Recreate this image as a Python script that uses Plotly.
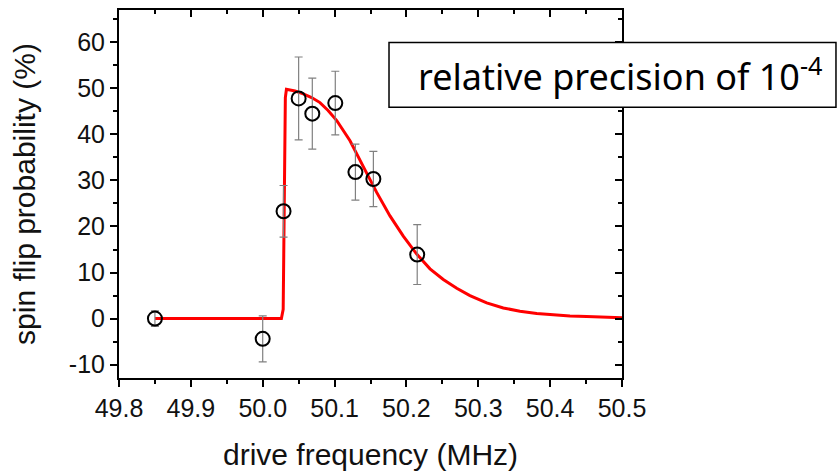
import plotly.graph_objects as go

# measured data
FREQ = [49.85, 50.00, 50.029, 50.050, 50.069, 50.101, 50.129, 50.154, 50.215]
PROB = [0.0, -4.4, 23.3, 47.8, 44.5, 46.8, 31.8, 30.3, 13.9]
ERR = [1.7, 5.0, 5.6, 9.0, 7.7, 6.9, 6.1, 6.0, 6.5]

# fit curve
FIT_X = [49.85, 50.026, 50.0285, 50.030, 50.0315, 50.033, 50.045, 50.0565, 50.068,
         50.0797, 50.091, 50.103, 50.1215, 50.14, 50.1586, 50.1771, 50.1956, 50.2143,
         50.2328, 50.2513, 50.27, 50.2884, 50.3117, 50.3348, 50.358, 50.3813, 50.4044,
         50.4276, 50.4508, 50.474, 50.5]
FIT_Y = [0.0, 0.0, 2.0, 30.0, 48.0, 49.8, 49.4, 48.8, 48.0,
         46.9, 45.2, 43.0, 38.6, 33.0, 27.4, 22.3, 17.9, 14.0,
         10.8, 8.5, 6.6, 5.0, 3.4, 2.3, 1.6, 1.1, 0.8,
         0.58, 0.43, 0.3, 0.2]

X_TICKS = [49.8, 49.9, 50.0, 50.1, 50.2, 50.3, 50.4, 50.5]
Y_TICKS = [-10, 0, 10, 20, 30, 40, 50, 60]

X_RANGE = [49.8, 50.5]
Y_RANGE = [-12.9, 67.0]

FONT = "Liberation Sans, Arial, sans-serif"

fig = go.Figure()

fig.add_trace(go.Scatter(
    x=FIT_X, y=FIT_Y, mode="lines",
    line=dict(color="#ff0000", width=3),
    hoverinfo="skip", showlegend=False,
))

fig.add_trace(go.Scatter(
    x=FREQ, y=PROB, mode="markers",
    marker=dict(symbol="circle-open", size=14, color="black", line=dict(width=2, color="black")),
    error_y=dict(type="data", array=ERR, visible=True, color="#808080", thickness=1.2, width=4),
    showlegend=False,
))

# invisible trace to carry the mirrored (inside-tick) axes
fig.add_trace(go.Scatter(
    x=FREQ[:1], y=PROB[:1], xaxis="x2", yaxis="y2", mode="markers",
    marker=dict(opacity=0), hoverinfo="skip", showlegend=False,
))

axis_common = dict(
    showgrid=False, zeroline=False, showline=True, linecolor="black", linewidth=2,
    automargin=False,
)

fig.update_layout(
    width=838, height=472,
    margin=dict(l=119, r=216, t=10, b=94),
    paper_bgcolor="white", plot_bgcolor="white",
    font=dict(family=FONT, color="black"),
    xaxis=dict(
        **axis_common,
        range=X_RANGE, tickvals=X_TICKS, ticktext=[f"{v:.1f}" for v in X_TICKS],
        ticks="outside", ticklen=7, tickwidth=2, tickcolor="black",
        minor=dict(dtick=0.05, ticks="outside", ticklen=4, tickwidth=2, tickcolor="black"),
        tickfont=dict(size=25, family=FONT, color="#111"),
        title=dict(text="drive frequency (MHz)", font=dict(size=30, family=FONT, color="#111"), standoff=23),
    ),
    yaxis=dict(
        **axis_common,
        range=Y_RANGE, tickvals=Y_TICKS, ticktext=[str(v) for v in Y_TICKS],
        ticks="outside", ticklen=7, tickwidth=2, tickcolor="black",
        minor=dict(dtick=5, ticks="outside", ticklen=4, tickwidth=2, tickcolor="black"),
        tickfont=dict(size=25, family=FONT, color="#111"),
        title=dict(text="spin flip probability (%)", font=dict(size=30, family=FONT, color="#111"), standoff=24),
    ),
    xaxis2=dict(
        **axis_common,
        overlaying="x", side="top", range=X_RANGE, tickvals=X_TICKS,
        ticks="inside", ticklen=7, tickwidth=2, tickcolor="black", showticklabels=False,
        minor=dict(dtick=0.05, ticks="inside", ticklen=4, tickwidth=2, tickcolor="black"),
    ),
    yaxis2=dict(
        **axis_common,
        overlaying="y", side="right", range=Y_RANGE, tickvals=Y_TICKS,
        ticks="inside", ticklen=7, tickwidth=2, tickcolor="black", showticklabels=False,
        minor=dict(dtick=5, ticks="inside", ticklen=4, tickwidth=2, tickcolor="black"),
    ),
)

# boxed annotation
fig.add_shape(
    type="rect", xref="paper", yref="paper",
    x0=0.5368, x1=1.4254, y0=0.7354, y1=0.9118,
    line=dict(color="black", width=1.5), fillcolor="white", layer="above",
)
fig.add_annotation(
    xref="paper", yref="paper", x=0.998, y=0.8236,
    text="relative precision of 10<sup>-4</sup>", showarrow=False,
    font=dict(family="Noto Sans, sans-serif", size=36, color="black"),
    xanchor="center", yanchor="middle",
)

fig.write_html("out.html")
